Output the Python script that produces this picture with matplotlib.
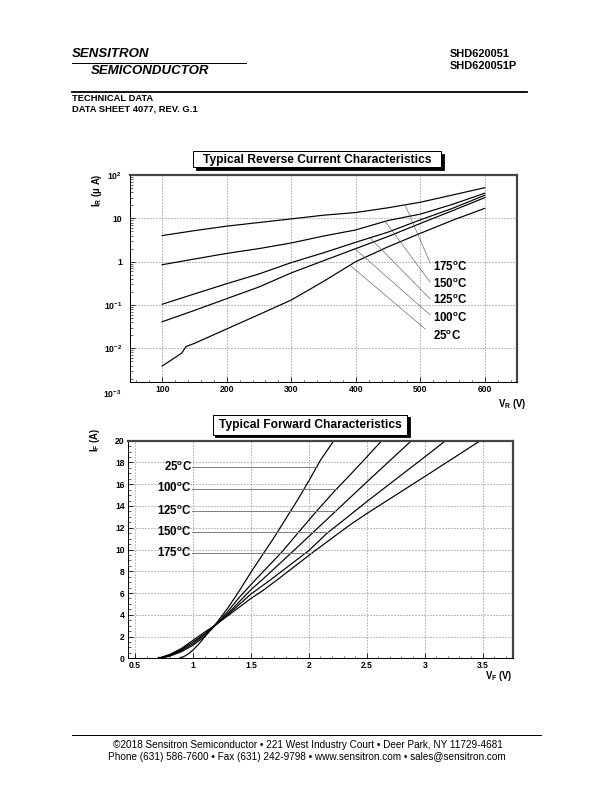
import numpy as np
import matplotlib
matplotlib.use("Agg")
import matplotlib.pyplot as plt
import matplotlib.transforms as mtransforms
from matplotlib.patches import Rectangle
from matplotlib.ticker import FixedLocator, LogLocator, MultipleLocator, NullFormatter

plt.rcParams['font.family'] = ['Liberation Sans', 'DejaVu Sans']
plt.rcParams['font.weight'] = 'bold'
plt.rcParams['mathtext.fontset'] = 'custom'
plt.rcParams['mathtext.rm'] = 'Liberation Sans:bold'
plt.rcParams['mathtext.it'] = 'Liberation Sans:bold'
plt.rcParams['mathtext.default'] = 'rm'

# ---- reverse current data (I_R in uA vs V_R in V)
vr = [100, 150, 200, 250, 300, 350, 400, 450, 500, 550, 600]
ir_175 = [4.0, 5.2, 6.6, 8.0, 9.7, 11.8, 13.6, 17.5, 23.5, 34.5, 51]
ir_150 = [0.85, 1.15, 1.55, 2.0, 2.7, 3.9, 5.4, 8.9, 12.5, 21, 38]
ir_125 = [0.104, 0.18, 0.31, 0.52, 0.95, 1.6, 2.8, 4.8, 9.2, 17, 34]
ir_100 = [0.041, 0.075, 0.14, 0.26, 0.55, 1.05, 2.0, 3.8, 7.6, 15, 30]
vr_25 = [100, 130, 137, 150, 200, 250, 300, 350, 400, 450, 500, 550, 600]
ir_25 = [0.0039, 0.0077, 0.011, 0.013, 0.028, 0.06, 0.13, 0.35, 1.0, 2.2, 4.5, 9, 17]

# ---- forward data (I_F in A vs V_F in V)
vf_25 = [0.88, 0.92, 0.96, 1.0, 1.05, 1.1, 1.15, 1.2, 1.3, 1.4, 1.5, 1.6, 1.7, 1.8, 1.9, 2.0, 2.1, 2.216]
if_25 = [0, 0.15, 0.4, 0.75, 1.3, 1.95, 2.6, 3.2, 4.6, 6.2, 7.9, 9.5, 11.1, 12.8, 14.5, 16.3, 18.2, 20]
vf_100 = [0.72, 0.8, 0.9, 1.0, 1.1, 1.2, 1.3, 1.4, 1.538, 1.77, 1.913, 2.057, 2.216, 2.36, 2.5, 2.63]
if_100 = [0, 0.2, 0.6, 1.2, 2.0, 3.1, 4.3, 5.6, 7.2, 9.8, 11.6, 13.4, 15.3, 16.9, 18.5, 20]
vf_125 = [0.71, 0.8, 0.9, 1.0, 1.1, 1.2, 1.3, 1.4, 1.5, 1.596, 1.87, 2.03, 2.2, 2.36, 2.5, 2.886]
if_125 = [0, 0.25, 0.7, 1.35, 2.15, 3.1, 4.1, 5.2, 6.3, 7.2, 9.9, 11.5, 13.2, 14.8, 16.2, 20]
vf_150 = [0.70, 0.8, 0.9, 1.0, 1.1, 1.2, 1.3, 1.4, 1.5, 1.668, 2.0, 2.158, 2.36, 2.5, 3.0, 3.18]
if_150 = [0, 0.3, 0.8, 1.5, 2.25, 3.1, 4.0, 4.95, 5.9, 7.2, 9.9, 11.5, 13.2, 14.4, 18.5, 20]
vf_175 = [0.70, 0.8, 0.9, 1.0, 1.1, 1.2, 1.3, 1.4, 1.5, 1.6, 1.726, 2.03, 2.36, 2.5, 3.0, 3.48]
if_175 = [0, 0.35, 0.9, 1.65, 2.4, 3.1, 3.9, 4.7, 5.5, 6.2, 7.2, 9.7, 12.3, 13.3, 16.7, 20]

temps = ['175', '150', '125', '100', '25']
rev_curves = [(vr, ir_175), (vr, ir_150), (vr, ir_125), (vr, ir_100), (vr_25, ir_25)]
fwd_curves = [(vf_25, if_25), (vf_100, if_100), (vf_125, if_125), (vf_150, if_150), (vf_175, if_175)]
fwd_temps = ['25', '100', '125', '150', '175']

# where the leader lines touch the reverse curves (V_R)
rev_leader_v = [476.6, 445.5, 422.1, 398.8, 391.0]
rev_leader_start = [(515.5, 0.916), (515.5, 0.334), (515.5, 0.137), (515.5, 0.0587), (507.7, 0.0279)]
rev_label_y = [0.766, 0.30, 0.130, 0.0493, 0.0195]
fwd_label_y = [17.6, 15.6, 13.5, 11.6, 9.65]

fig = plt.figure(figsize=(8.5, 11), dpi=72)
# pixel coordinates measured from the top-left corner of the page
px = mtransforms.Affine2D().scale(1 / 612, -1 / 792).translate(0, 1) + fig.transFigure


def ptext(x, y, s, **kw):
    fig.text(x, y, s, transform=px, **kw)


def pline(x0, x1, y, lw=1.0):
    fig.add_artist(plt.Line2D([x0, x1], [y, y], transform=px, color='black', lw=lw))


def title_box(x0, y0, x1, y1, s):
    fig.add_artist(Rectangle((x0 + 2.5, y1 + 2.5), x1 - x0, y0 - y1, transform=px,
                             facecolor='black', edgecolor='black', lw=0.8))
    fig.add_artist(Rectangle((x0, y1), x1 - x0, y0 - y1, transform=px,
                             facecolor='white', edgecolor='black', lw=1.0))
    ptext((x0 + x1) / 2, (y0 + y1) / 2 + 0.5, s, ha='center', va='center', fontsize=12)


def style_axes(ax):
    for side in ['left', 'bottom']:
        ax.spines[side].set_linewidth(1.0)
    for side in ['top', 'right']:
        ax.spines[side].set_linewidth(2.2)
        ax.spines[side].set_color('#444444')
    ax.tick_params(which='both', direction='in', top=False, right=False, labelsize=8.5)
    ax.tick_params(which='major', length=5, width=0.8)
    ax.tick_params(which='minor', length=2.5, width=0.6)
    ax.grid(True, which='major', linestyle=(0, (1, 2)), color='black', lw=0.5)


# ---------------- header
ptext(72.3, 54, 'SENSITRON', fontsize=13.2, style='italic', va='center')
ptext(90.7, 70.7, 'SEMICONDUCTOR', fontsize=13.2, style='italic', va='center')
pline(71.7, 245.7, 62.7, lw=1.0)
ptext(449.3, 54, 'SHD620051', fontsize=11, va='center')
ptext(449.3, 66, 'SHD620051P', fontsize=11, va='center')
pline(71.7, 526.7, 92.3, lw=1.8)
ptext(72, 98.3, 'TECHNICAL DATA', fontsize=9.4, va='center')
ptext(72, 109.3, 'DATA SHEET 4077, REV. G.1', fontsize=9.4, va='center')

# ---------------- reverse current chart
ax1 = fig.add_axes([130 / 612, 1 - 382.3 / 792, 387 / 612, 207.3 / 792])
for v, i in rev_curves:
    ax1.plot(v, i, color='black', lw=1.2)
ax1.set_yscale('log')
ax1.set_xlim(50, 650)
ax1.set_ylim(1.64e-3, 100)
ax1.xaxis.set_major_locator(MultipleLocator(100))
ax1.xaxis.set_minor_locator(MultipleLocator(20))
ax1.yaxis.set_major_locator(FixedLocator([1e-2, 1e-1, 1, 10, 100]))
ax1.yaxis.set_minor_locator(LogLocator(base=10, subs=np.arange(2, 10)))
ax1.yaxis.set_minor_formatter(NullFormatter())
ax1.set_yticklabels([r'10$^{-2}$', r'10$^{-1}$', '1', '10', r'10$^{2}$'])
ax1.set_xticks([100, 200, 300, 400, 500, 600])
style_axes(ax1)
ax1.tick_params(axis='y', pad=8)
ax1.tick_params(axis='x', pad=3)
ptext(121, 394, r'10$^{-3}$', fontsize=8.5, ha='right', va='center')
ptext(97, 190, r'I$_{R}$ (μ A)', fontsize=9.5, rotation=90, ha='center', va='center')
ptext(526, 404, r'V$_{R}$ (V)', fontsize=9.5, ha='right', va='center')

for k, (v, i) in enumerate(rev_curves):
    vend = rev_leader_v[k]
    iend = 10 ** np.interp(vend, v, np.log10(i))
    x0, y0 = rev_leader_start[k]
    ax1.plot([x0, vend], [y0, iend], color='0.35', lw=0.6)
    ax1.text(519, rev_label_y[k], temps[k] + r'$^{\rm o}$C', fontsize=11.5,
             ha='left', va='center')

title_box(193, 151, 441, 167, 'Typical Reverse Current Characteristics')

# ---------------- forward chart
ax2 = fig.add_axes([127.7 / 612, 1 - 658.3 / 792, 385.6 / 612, 217.6 / 792])
for v, i in fwd_curves:
    ax2.plot(v, i, color='black', lw=1.2)
ax2.set_xlim(0.437, 3.765)
ax2.set_ylim(0, 20)
ax2.xaxis.set_major_locator(MultipleLocator(0.5))
ax2.xaxis.set_minor_locator(MultipleLocator(0.1))
ax2.yaxis.set_major_locator(MultipleLocator(2))
ax2.yaxis.set_minor_locator(MultipleLocator(0.5))
ax2.set_xticks([0.5, 1, 1.5, 2, 2.5, 3, 3.5])
ax2.set_xticklabels(['0.5', '1', '1.5', '2', '2.5', '3', '3.5'])
style_axes(ax2)
ax2.tick_params(axis='y', pad=3)
ax2.tick_params(axis='x', pad=3)
ptext(95, 440, r'I$_{F}$ (A)', fontsize=9.5, rotation=90, ha='center', va='center')
ptext(513, 676, r'V$_{F}$ (V)', fontsize=9.5, ha='right', va='center')

for k, (v, i) in enumerate(fwd_curves):
    y = fwd_label_y[k]
    vend = np.interp(y, i, v)
    ax2.plot([0.99, vend], [y, y], color='0.5', lw=1.0)
    ax2.text(0.99, y, fwd_temps[k] + r'$^{\rm o}$C', fontsize=11.5, ha='right', va='center')

title_box(212.7, 414.7, 407.3, 434.7, 'Typical Forward Characteristics')

# ---------------- footer
pline(72, 541, 735, lw=1.0)
ptext(308, 745, '©2018 Sensitron Semiconductor • 221 West Industry Court • Deer Park, NY 11729-4681',
      fontsize=10, fontweight='normal', ha='center', va='center')
ptext(307, 756.5, 'Phone (631) 586-7600 • Fax (631) 242-9798 • www.sensitron.com • sales@sensitron.com',
      fontsize=10, fontweight='normal', ha='center', va='center')

fig.savefig('out.png', dpi=72)
